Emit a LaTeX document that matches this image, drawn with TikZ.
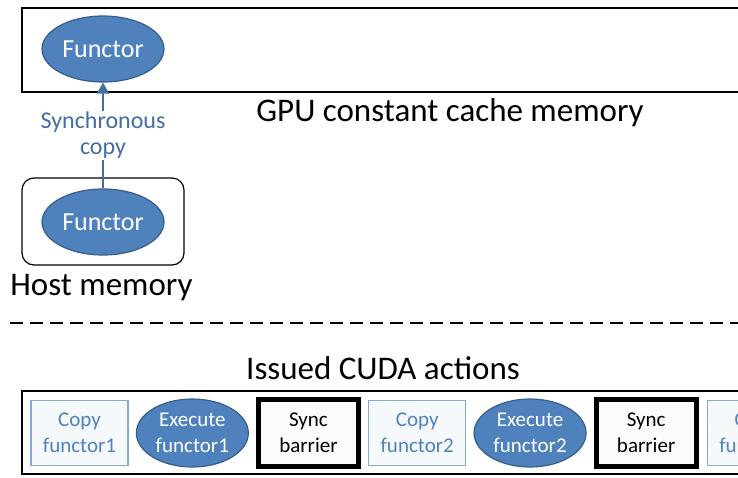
\documentclass[tikz,border=0pt]{standalone}
\usepackage{fontspec}
\setmainfont{Carlito}
\usetikzlibrary{arrows.meta, positioning, shapes.geometric}
\definecolor{bleu}{RGB}{79,129,189}
\definecolor{bleufonce}{RGB}{56,93,138}
\definecolor{bleutexte}{RGB}{66,110,162}
\definecolor{bleuclair}{RGB}{135,170,212}

\begin{document}
\begin{tikzpicture}[x=1pt, y=-1pt,
	functor/.style={ellipse, fill=bleu, draw=bleufonce, line width=1.2pt,
		text=white, inner sep=0pt, minimum width=122pt, minimum height=66pt,
		font=\fontsize{26}{30}\selectfont},
	execbox/.style={functor, minimum width=112pt, minimum height=68pt,
		align=center, font=\fontsize{21}{26}\selectfont},
	copybox/.style={rectangle, draw=bleuclair, fill=bleu!5, line width=1.5pt,
		text=bleu, inner sep=0pt, minimum width=97pt, minimum height=65pt,
		align=center, font=\fontsize{21}{26}\selectfont},
	syncbox/.style={rectangle, draw=black, fill=bleu!3, line width=5pt,
		inner sep=0pt, minimum width=100pt, minimum height=67pt,
		align=center, font=\fontsize{21}{26}\selectfont},
	titre/.style={font=\fontsize{33}{36}\selectfont},
	node distance=7pt]
	\useasboundingbox (0,0) rectangle (738,477);
	\clip (0,0) rectangle (738,477);

	% memoire constante du GPU
	\draw[line width=1.5pt] (22,8) rectangle (760,92);
	\node[functor] (fgpu) at (103,49) {Functor};
	\node[titre] (gpu) at (450,113) {GPU constant cache memory};

	% memoire hote
	\draw[line width=1.2pt, rounded corners=12pt] (22,178) rectangle (184,265);
	\node[functor] (fhost) at (103,222) {Functor};
	\node[titre] (host) at (101.5,288) {Host memory};

	% copie synchrone
	\draw[bleutexte, line width=2pt, -{Triangle[width=12pt, length=11pt]}]
	(fhost) -- node[fill=white, inner sep=1pt, align=center, text=bleutexte,
		font=\fontsize{24}{26}\selectfont] (copie) {Synchronous\\copy} (fgpu);

	% separation
	\draw[line width=2.5pt, dash pattern=on 13pt off 7pt] (10,323) -- (745,323);

	% actions CUDA
	\node[titre] (cuda) at (383,368) {Issued CUDA actions};
	\draw[line width=1.5pt] (22,391) rectangle (760,474);
	\node[copybox] (copyA) at (79.5,433) {Copy\\functor1};
	\node[execbox, right=of copyA] (execA) {Execute\\functor1};
	\node[syncbox, right=of execA] (syncA) {Sync\\barrier};
	\node[copybox, right=of syncA] (copyB) {Copy\\functor2};
	\node[execbox, right=of copyB] (execB) {Execute\\functor2};
	\node[syncbox, right=of execB] (syncB) {Sync\\barrier};
	\node[copybox, right=8pt of syncB] (copyC) {Copy\\functor3};
\end{tikzpicture}
\end{document}
